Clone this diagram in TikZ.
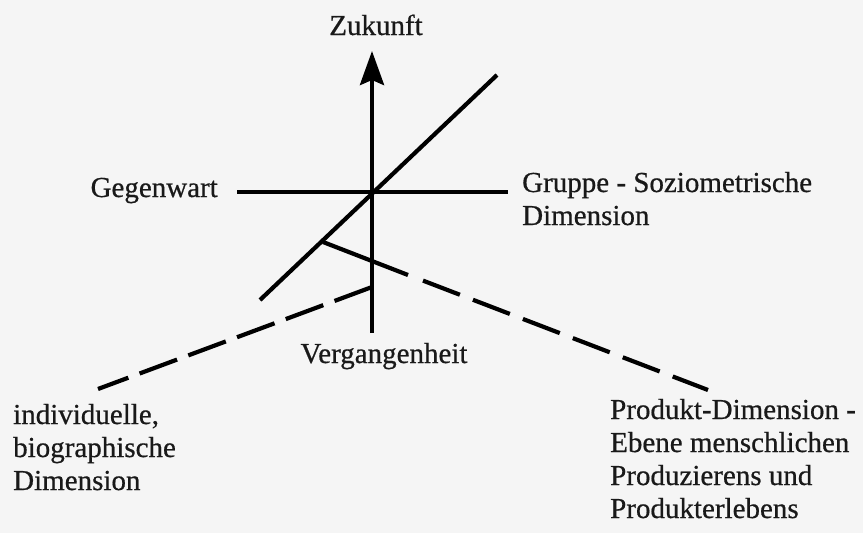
\documentclass[tikz,border=0pt]{standalone}
\usepackage{fontspec}
\setmainfont{Liberation Serif}
\newfontfamily\lblfont[FakeBold=0.6]{Liberation Serif}
\usetikzlibrary{arrows.meta}
\begin{document}
\begin{tikzpicture}[x=1pt,y=-1pt,
  axis/.style={line width=4.2pt},
  dimline/.style={line width=4.2pt},
  lbl/.style={font=\lblfont\fontsize{29}{33}\selectfont, inner sep=0pt, anchor=base west, align=left, text=black!90}]
\fill[black!4] (0,0) rectangle (863,533);
\useasboundingbox (0,0) rectangle (863,533);
% coordinates
\coordinate (vbot) at (372,333);
\coordinate (vtop) at (372,51);
\coordinate (hleft) at (237,192);
\coordinate (hright) at (508,192);
\coordinate (dtop) at (497,75);
\coordinate (dbot) at (260,300);
\coordinate (tick) at (323,242);
\coordinate (rsolid) at (408,275);
\coordinate (rdash) at (423,280.6);
\coordinate (rend) at (708,390);
\coordinate (lstart) at (372,287);
\coordinate (lend) at (98,389);
% axes
\draw[axis, -{Stealth[length=34pt,width=24pt,inset=5pt]}] (vbot) -- (vtop);
\draw[axis] (hleft) -- (hright);
\draw[axis] (dbot) -- (dtop);
% product dimension line
\draw[dimline] (tick) -- (rsolid);
\draw[dimline, dash pattern=on 39.5pt off 14pt] (rdash) -- (rend);
% individual dimension line
\draw[dimline, dash pattern=on 40pt off 12pt] (lstart) -- (lend);
% labels (base anchor = baseline of the last line)
\node[lbl, anchor=base] (zuk) at (376,35) {Zukunft};
\node[lbl, anchor=base east] (geg) at (218,197) {Gegenwart};
\node[lbl] (grp) at (522,225) {Gruppe - Soziometrische\\Dimension};
\node[lbl, anchor=base] (ver) at (384,363) {Vergangenheit};
\node[lbl] (ind) at (13,490) {individuelle,\\biographische\\Dimension};
\node[lbl] (prod) at (610,518) {Produkt-Dimension -\\Ebene menschlichen\\Produzierens und\\Produkterlebens};
\end{tikzpicture}
\end{document}
